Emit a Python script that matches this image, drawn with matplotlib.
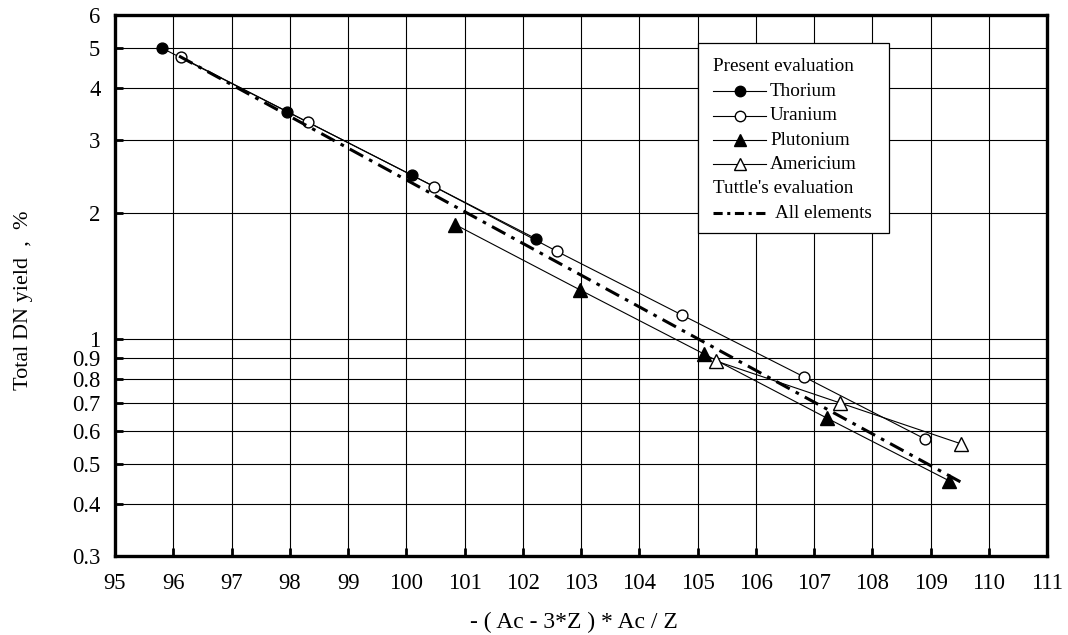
import matplotlib
matplotlib.use("Agg")
import matplotlib.pyplot as plt
from matplotlib.patches import Rectangle

plt.rcParams['font.family'] = ['Liberation Serif', 'DejaVu Serif']

# delayed neutron yield against -(Ac - 3Z) * Ac / Z
thorium_x = [95.80, 97.96, 100.10, 102.22]
thorium_y = [5.00, 3.51, 2.47, 1.74]

uranium_x = [96.13, 98.32, 100.48, 102.59, 104.73, 106.82, 108.90]
uranium_y = [4.75, 3.31, 2.32, 1.62, 1.14, 0.81, 0.574]

plutonium_x = [100.84, 102.98, 105.12, 107.22, 109.32]
plutonium_y = [1.88, 1.31, 0.917, 0.644, 0.455]

americium_x = [105.31, 107.45, 109.53]
americium_y = [0.884, 0.70, 0.558]

# Tuttle's fit over all elements (straight line on the log scale)
tuttle_x = [96.10, 109.53]
tuttle_y = [4.78, 0.451]

y_ticks = [0.3, 0.4, 0.5, 0.6, 0.7, 0.8, 0.9, 1, 2, 3, 4, 5, 6]
y_tick_labels = ['0.3', '0.4', '0.5', '0.6', '0.7', '0.8', '0.9', '1', '2', '3', '4', '5', '6']
x_ticks = list(range(95, 112))

fig = plt.figure(figsize=(10.68, 6.35), dpi=100)
ax = fig.add_axes([115 / 1068, 79 / 635, 932 / 1068, 541 / 635])

ax.set_yscale('log')
ax.set_xlim(95, 111)
ax.set_ylim(0.3, 6)
ax.set_xticks(x_ticks)
ax.set_xticklabels([str(v) for v in x_ticks])
ax.set_yticks(y_ticks)
ax.set_yticklabels(y_tick_labels)
ax.minorticks_off()
ax.tick_params(axis='both', direction='in', length=6, width=2, labelsize=16.3, color='black')
ax.tick_params(axis='y', pad=10.5)
ax.tick_params(axis='x', pad=12)
ax.grid(True, which='major', color='black', linewidth=0.8)
ax.set_axisbelow(True)
for s in ax.spines.values():
    s.set_linewidth(2.4)

line_kw = dict(color='black', linewidth=0.8, markersize=7.8)
ax.plot(thorium_x, thorium_y, marker='o', markerfacecolor='black', **line_kw)
ax.plot(uranium_x, uranium_y, marker='o', markerfacecolor='white', **line_kw)
ax.plot(plutonium_x, plutonium_y, marker='^', markerfacecolor='black', markersize=9.5,
        color='black', linewidth=0.8)
ax.plot(americium_x, americium_y, marker='^', markerfacecolor='white', markersize=9.5,
        color='black', linewidth=0.8)
ax.plot(tuttle_x, tuttle_y, color='black', linewidth=2.2, dashes=(5, 2.2, 1.2, 2.2))

ax.set_xlabel('- ( Ac - 3*Z ) * Ac / Z', fontsize=17, va='center')
ax.xaxis.set_label_coords(0.492, -0.122)
ax.set_ylabel('Total DN yield  ,  %', fontsize=16, va='center')
ax.yaxis.set_label_coords(-0.0987, 0.473)

# hand-built legend box with two header rows
ax.add_patch(Rectangle((0.6259, 0.5979), 0.2045, 0.3509, transform=ax.transAxes,
                       facecolor='white', edgecolor='black', linewidth=0.9, zorder=5))
rows = [0.9045 - 0.0452 * i for i in range(7)]
hx0, hx1, mx, tx = 0.642, 0.6985, 0.6707, 0.7028
leg_fs = 13.8
ax.text(hx0, rows[0], 'Present evaluation', transform=ax.transAxes, fontsize=leg_fs,
        va='center', ha='left', zorder=6)
entries = [
    ('Thorium', 'o', 'black', 7.5),
    ('Uranium', 'o', 'white', 7.5),
    ('Plutonium', '^', 'black', 9),
    ('Americium', '^', 'white', 9),
]
for i, (name, mk, fc, ms) in enumerate(entries):
    r = rows[i + 1]
    ax.plot([hx0, hx1], [r, r], transform=ax.transAxes, color='black', linewidth=0.8,
            zorder=6, clip_on=False)
    ax.plot([mx], [r], transform=ax.transAxes, marker=mk, markerfacecolor=fc,
            markeredgecolor='black', markersize=ms, linestyle='none', zorder=7, clip_on=False)
    ax.text(tx, r, name, transform=ax.transAxes, fontsize=leg_fs, va='center', ha='left', zorder=6)
ax.text(hx0, rows[5], "Tuttle's evaluation", transform=ax.transAxes, fontsize=leg_fs,
        va='center', ha='left', zorder=6)
ax.plot([hx0, hx1], [rows[6], rows[6]], transform=ax.transAxes, color='black', linewidth=2.2,
        dashes=(3, 1.5, 1, 1.5), zorder=6, clip_on=False)
ax.text(0.7082, rows[6], 'All elements', transform=ax.transAxes, fontsize=leg_fs,
        va='center', ha='left', zorder=6)

fig.savefig('out.png', dpi=100)
